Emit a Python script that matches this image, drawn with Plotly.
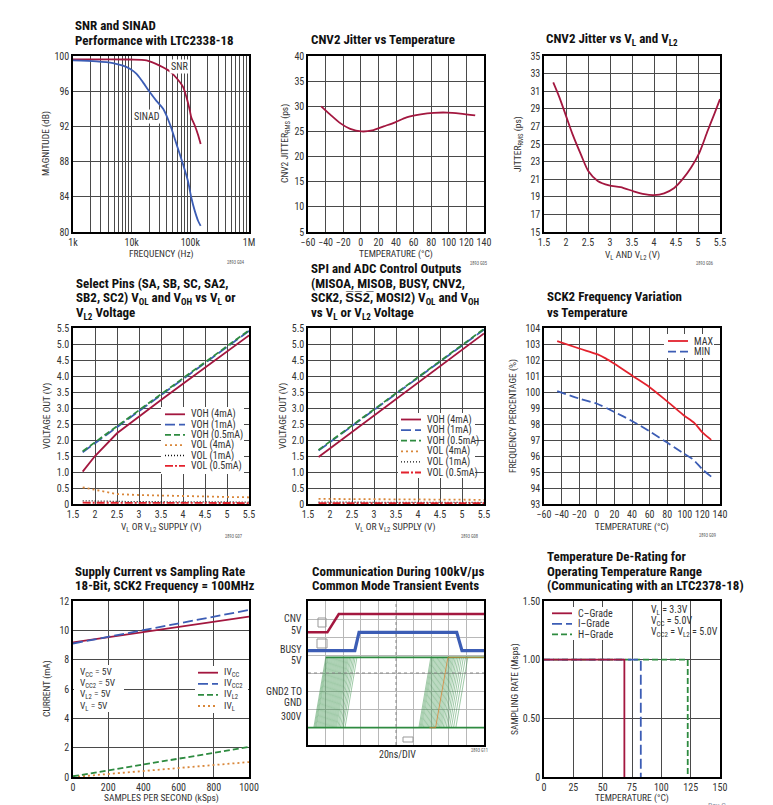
import plotly.graph_objects as go

# page has an 8px body margin: figure is sized so reference pixel (x, y) maps to (x-8, y-8)
OFF = 8
W, H = 773 - OFF, 805 - OFF
def px(x): return (x - OFF) / W
def py(y): return 1 - (y - OFF) / H

# ---------------- data ----------------
# Panel 1: SNR / SINAD vs frequency
snr_freq = [1000, 9300, 17900, 30000, 44600, 58000, 75000, 86000, 98000, 104000, 119000, 136000, 150000]
snr_db = [99.6, 99.6, 99.5, 98.9, 98.25, 97.5, 96.5, 95.3, 93.8, 93.0, 92.1, 91.0, 90.0]
sinad_freq = [1000, 2500, 4800, 7100, 9300, 12000, 15600, 20300, 26400, 34400, 44600, 58000, 75000, 91000, 104000, 119000, 136000, 150000]
sinad_db = [99.5, 99.4, 99.2, 98.9, 98.55, 98.0, 97.0, 95.9, 94.9, 94.0, 92.3, 90.0, 87.7, 85.8, 83.9, 82.4, 81.25, 80.7]
freq_ticks = [1e3, 1e4, 1e5, 1e6]
freq_labels = ["1k", "10k", "100k", "1M"]
freq_minor = [2e3, 3e3, 4e3, 5e3, 6e3, 7e3, 8e3, 9e3, 2e4, 3e4, 4e4, 5e4, 6e4, 7e4, 8e4, 9e4,
              2e5, 3e5, 4e5, 5e5, 6e5, 7e5, 8e5, 9e5]

# Panel 2: CNV2 jitter vs temperature
jit_temp = [-45, -35, -23, -12, 1, 13, 26, 39, 52, 68, 83, 98, 113, 130]
jit_temp_ps = [30.0, 28.4, 26.6, 25.5, 25.0, 25.2, 26.0, 26.8, 27.8, 28.4, 28.7, 28.75, 28.55, 28.2]

# Panel 3: CNV2 jitter vs VL
jit_vl = [1.71, 1.85, 2.0, 2.15, 2.34, 2.51, 2.72, 2.98, 3.24, 3.55, 3.78, 4.0, 4.23, 4.46, 4.65, 4.84, 5.03, 5.22, 5.37, 5.5]
jit_vl_ps = [32.0, 30.3, 28.2, 26.1, 23.8, 21.9, 20.8, 20.3, 20.1, 19.6, 19.3, 19.2, 19.4, 20.0, 21.0, 22.3, 24.0, 26.5, 28.4, 30.1]

# Panel 4: select pins
sel_v = [1.72, 2.0, 2.5, 3.0, 3.5, 4.0, 4.5, 5.0, 5.5]
sel_voh4 = [1.01, 1.5, 2.21, 2.74, 3.25, 3.76, 4.26, 4.77, 5.27]
sel_voh1 = [1.62, 1.9, 2.4, 2.9, 3.4, 3.91, 4.41, 4.91, 5.41]
sel_voh05 = [1.65, 1.93, 2.43, 2.93, 3.43, 3.93, 4.43, 4.93, 5.43]
sel_vol4 = [0.52, 0.45, 0.31, 0.28, 0.26, 0.24, 0.23, 0.22, 0.21]
sel_vol1 = [0.1, 0.09, 0.08, 0.07, 0.07, 0.07, 0.06, 0.06, 0.06]
sel_vol05 = [0.04, 0.04, 0.04, 0.03, 0.03, 0.03, 0.03, 0.03, 0.03]

# Panel 5: SPI outputs
spi_v = [1.74, 2.5, 3.5, 4.5, 5.5]
spi_voh4 = [1.47, 2.25, 3.27, 4.3, 5.33]
spi_voh1 = [1.67, 2.44, 3.45, 4.45, 5.45]
spi_voh05 = [1.69, 2.45, 3.46, 4.46, 5.47]
spi_vol4 = [0.16, 0.15, 0.14, 0.14, 0.13]
spi_vol1 = [0.06, 0.05, 0.05, 0.05, 0.05]
spi_vol05 = [0.03, 0.03, 0.03, 0.03, 0.03]
volt_ticks = [0, 0.5, 1, 1.5, 2, 2.5, 3, 3.5, 4, 4.5, 5, 5.5]
volt_labels = ["0", "0.5", "1.0", "1.5", "2.0", "2.5", "3.0", "3.5", "4.0", "4.5", "5.0", "5.5"]
io_labels = ["VOH (4mA)", "VOH (1mA)", "VOH (0.5mA)", "VOL (4mA)", "VOL (1mA)", "VOL (0.5mA)"]

# Panel 6: SCK2 frequency variation
sck_temp_max = [-45, -20, 1, 10, 20, 41, 60, 79, 98, 111, 120, 130]
sck_max = [103.18, 102.72, 102.35, 102.1, 101.76, 100.99, 100.3, 99.46, 98.58, 98.06, 97.47, 97.01]
sck_temp_min = [-45, -20, 1, 20, 41, 60, 79, 98, 109, 120, 130]
sck_min = [100.05, 99.59, 99.25, 98.75, 98.16, 97.54, 96.87, 96.18, 95.8, 95.17, 94.71]

# Panel 7: supply current vs sampling rate
sps = [0, 1000]
i_vcc = [9.18, 10.93]
i_vcc2 = [9.1, 11.39]
i_vl2 = [0.05, 2.05]
i_vl = [0.0, 1.02]

# Panel 8: scope capture (divisions)
cnv_t = [0.0, 1.1, 1.75, 10.0]
cnv_lvl = [6.26, 6.26, 7.28, 7.28]
busy_t = [0.0, 2.66, 2.9, 8.45, 8.75, 10.0]
busy_lvl = [5.24, 5.24, 6.26, 6.26, 5.24, 5.24]
gnd_low, gnd_high = 0.96, 4.87
gnd_edges1 = [0.33, 0.38, 0.43, 0.48, 0.54, 0.6, 0.66, 0.72, 0.78, 0.84, 0.9, 0.96, 1.02, 1.08, 1.14, 1.2,
              1.26, 1.32, 1.38, 1.44, 1.5, 1.56, 1.62, 1.69, 1.76, 1.84, 1.92, 2.0, 2.1]
gnd_edges2 = [6.3, 6.36, 6.42, 6.48, 6.55, 6.62, 6.69, 6.76, 6.83, 6.9, 6.97, 7.04, 7.11, 7.18, 7.25, 7.32,
              7.39, 7.46, 7.53, 7.6, 7.68, 7.76, 7.85, 7.94, 8.04, 8.15, 8.27, 8.4]
gnd_rise = 0.68

# Panel 9: temperature de-rating
grade_names = ["C–Grade", "I–Grade", "H–Grade"]
grade_tmax = [68.5, 82.5, 122.5]
grade_rate = [1.0, 1.0, 1.0]

# ---------------- styles ----------------
MAROON = "#a3173f"
BLUE = "#3c5db5"
GREEN = "#2e8b40"
ORANGE = "#d9873a"
RED = "#e3222d"
FONT = "Roboto Condensed, Liberation Sans, sans-serif"
TICKF = dict(family=FONT, size=10, color="#333")
AXT = 9.5

fig = go.Figure()

cols = [(73, 249), (308, 484), (544, 720)]
rows = [(56, 232), (328, 504), (601, 777)]

def dom(c, r, bottom=None):
    x0, x1 = cols[c]
    y0, y1 = rows[r]
    if bottom is not None:
        y1 = bottom
    return [px(x0), px(x1)], [py(y1), py(y0)]

def add_axes(i, c, r, xr, yr, xkw=None, ykw=None, bottom=None):
    xd, yd = dom(c, r, bottom)
    base = dict(showline=True, mirror=True, linecolor="black", linewidth=1.5,
                showgrid=True, gridcolor="#4a4a4a", gridwidth=1.1, zeroline=False,
                ticks="", tickfont=TICKF, fixedrange=True, automargin=False, tickangle=0)
    xa = dict(base, domain=xd, range=xr, anchor="y%d" % i)
    ya = dict(base, domain=yd, range=yr, anchor="x%d" % i)
    if xkw: xa.update(xkw)
    if ykw: ya.update(ykw)
    fig.layout["xaxis%d" % i] = xa
    fig.layout["yaxis%d" % i] = ya

def line(i, x, y, color, width=1.8, dash="solid", shape="spline"):
    ln = dict(color=color, width=width, dash=dash, shape=shape)
    if shape == "spline":
        ln["smoothing"] = 0.8
    fig.add_trace(go.Scatter(x=x, y=y, mode="lines", xaxis="x%d" % i, yaxis="y%d" % i,
                             line=ln, showlegend=False, hoverinfo="skip"))

annots = []
shapes = []

def text(x, y, s, size=10, xanchor="center", angle=0, color="#333", bg=None):
    a = dict(x=px(x), y=py(y), xref="paper", yref="paper", text=s,
             showarrow=False, xanchor=xanchor, yanchor="middle", textangle=angle,
             font=dict(family=FONT, size=size, color=color))
    if bg:
        a.update(bgcolor=bg, borderpad=1)
    annots.append(a)

def title(x, ys, lines):
    for y, s in zip(ys, lines):
        annots.append(dict(x=px(x), y=py(y), xref="paper", yref="paper", text="<b>%s</b>" % s,
                           showarrow=False, xanchor="left", yanchor="middle", align="left",
                           font=dict(family=FONT, size=13, color="#111")))

def legend_box(x0, y0, x1, y1):
    shapes.append(dict(type="rect", xref="paper", yref="paper", x0=px(x0), x1=px(x1),
                       y0=py(y1), y1=py(y0), fillcolor="white", line=dict(width=0), layer="above"))

def legend_item(xs, xe, y, color, dash, label, width=1.8, size=10):
    shapes.append(dict(type="line", xref="paper", yref="paper", x0=px(xs), x1=px(xe),
                       y0=py(y), y1=py(y), line=dict(color=color, width=width, dash=dash), layer="above"))
    text(xe + 4, y, label, size=size, xanchor="left")

# ---- Panel 1
add_axes(1, 0, 0, [3, 6], [80, 100],
         xkw=dict(type="log", tickvals=freq_ticks, ticktext=freq_labels,
                  minor=dict(tickvals=freq_minor, showgrid=True, gridcolor="#4a4a4a", gridwidth=1.1, ticks="")),
         ykw=dict(dtick=4, tick0=80))
line(1, snr_freq, snr_db, MAROON)
line(1, sinad_freq, sinad_db, BLUE)
title(73, [25, 40.7], ["SNR and SINAD", "Performance with LTC2338-18"])
text(179, 66, "SNR", size=10, bg="white")
text(147, 117, "SINAD", size=10, bg="white")
text(46, 144, "MAGNITUDE (dB)", size=AXT, angle=-90)
text(161, 254, "FREQUENCY (Hz)", size=AXT)

# ---- Panel 2
add_axes(2, 1, 0, [-60, 140], [5, 40], xkw=dict(dtick=20), ykw=dict(dtick=5))
line(2, jit_temp, jit_temp_ps, MAROON)
title(309, [40], ["CNV2 Jitter vs Temperature"])
text(285, 144, "CNV2 JITTER<sub>RMS</sub> (ps)", size=AXT, angle=-90)
text(396, 254, "TEMPERATURE (°C)", size=AXT)

# ---- Panel 3
add_axes(3, 2, 0, [1.5, 5.5], [15, 35], xkw=dict(dtick=0.5), ykw=dict(dtick=2, tick0=15))
line(3, jit_vl, jit_vl_ps, MAROON)
title(544, [40], ["CNV2 Jitter vs V<sub>L</sub> and V<sub>L2</sub>"])
text(518, 144, "JITTER<sub>RMS</sub> (ps)", size=AXT, angle=-90)
text(632, 255, "V<sub>L</sub> AND V<sub>L2</sub> (V)", size=AXT)

# ---- Panel 4 & 5
for i, c in ((4, 0), (5, 1)):
    add_axes(i, c, 1, [1.5, 5.5], [0, 5.5], xkw=dict(dtick=0.5),
             ykw=dict(tickvals=volt_ticks, ticktext=volt_labels))

io_sty = [(MAROON, "solid", 1.8), (BLUE, "10px,4px", 1.8), (GREEN, "6px,3px", 1.8),
          (ORANGE, "2px,3px", 1.8), ("#111", "1px,2px", 1.3), (RED, "8px,2px,2px,2px", 1.8)]
for ys, st in zip([sel_voh4, sel_voh1, sel_voh05, sel_vol4, sel_vol1, sel_vol05], io_sty):
    line(4, sel_v, ys, st[0], width=st[2], dash=st[1], shape="linear")
for ys, st in zip([spi_voh4, spi_voh1, spi_voh05, spi_vol4, spi_vol1, spi_vol05], io_sty):
    line(5, spi_v, ys, st[0], width=st[2], dash=st[1], shape="linear")

legend_box(161, 407, 244, 474)
for k, (lbl, st) in enumerate(zip(io_labels, io_sty)):
    legend_item(165, 185, 414.3 + k * 10.3, st[0], st[1], lbl, width=st[2])
legend_box(398, 413, 475, 478)
for k, (lbl, st) in enumerate(zip(io_labels, io_sty)):
    legend_item(401, 421, 419.5 + k * 10.6, st[0], st[1], lbl, width=st[2])

title(74, [283.3, 298.3, 313.3], ["Select Pins (SA, SB, SC, SA2,",
                                   "SB2, SC2) V<sub>OL</sub> and V<sub>OH</sub> vs V<sub>L</sub> or",
                                   "V<sub>L2</sub> Voltage"])
text(47, 416, "VOLTAGE OUT (V)", size=AXT, angle=-90)
text(161, 527, "V<sub>L</sub> OR V<sub>L2</sub> SUPPLY (V)", size=AXT)

title(309, [268.3, 283.3, 298.3, 313.3], ["SPI and ADC Control Outputs",
                                           "(MISOA, MISOB, BUSY, CNV2,",
                                           "SCK2, S\u0305S\u03052\u0305, MOSI2) V<sub>OL</sub> and V<sub>OH</sub>",
                                           "vs V<sub>L</sub> or V<sub>L2</sub> Voltage"])
text(283, 416, "VOLTAGE OUT (V)", size=AXT, angle=-90)
text(395, 527, "V<sub>L</sub> OR V<sub>L2</sub> SUPPLY (V)", size=AXT)

# ---- Panel 6
add_axes(6, 2, 1, [-60, 140], [93, 104], xkw=dict(dtick=20), ykw=dict(dtick=1))
line(6, sck_temp_max, sck_max, RED)
line(6, sck_temp_min, sck_min, BLUE, dash="9px,4px")
legend_box(664, 334, 714, 358)
legend_item(668, 688, 341, RED, "solid", "MAX")
legend_item(668, 688, 351.7, BLUE, "8px,4px", "MIN")
title(545, [296.7, 312.7], ["SCK2 Frequency Variation", "vs Temperature"])
text(513, 416, "FREQUENCY PERCENTAGE (%)", size=AXT, angle=-90)
text(632, 527, "TEMPERATURE (°C)", size=AXT)

# ---- Panel 7
add_axes(7, 0, 2, [0, 1000], [0, 12], xkw=dict(dtick=200), ykw=dict(dtick=2))
line(7, sps, i_vl, ORANGE, dash="2px,3px", shape="linear")
line(7, sps, i_vl2, GREEN, dash="6px,3px", shape="linear")
line(7, sps, i_vcc, MAROON, shape="linear")
line(7, sps, i_vcc2, BLUE, dash="10px,4px", shape="linear")
legend_box(74, 665, 124, 712)
for k, s in enumerate(["V<sub>CC</sub> = 5V", "V<sub>CC2</sub> = 5V", "V<sub>L2</sub> = 5V", "V<sub>L</sub> = 5V"]):
    text(78, 672.7 + k * 11.1, s, size=9.5, xanchor="left")
legend_box(195, 666, 248, 713)
for k, (lbl, col, ds) in enumerate([("IV<sub>CC</sub>", MAROON, "solid"), ("IV<sub>CC2</sub>", BLUE, "10px,4px"),
                                    ("IV<sub>L2</sub>", GREEN, "6px,3px"), ("IV<sub>L</sub>", ORANGE, "2px,3px")]):
    legend_item(198, 218, 672.7 + k * 11.1, col, ds, lbl, size=9.5)
title(73, [571, 585], ["Supply Current vs Sampling Rate", "18-Bit, SCK2 Frequency = 100MHz"])
text(47, 689, "CURRENT (mA)", size=AXT, angle=-90)
text(161, 798, "SAMPLES PER SECOND (kSps)", size=AXT)

# ---- Panel 8 (scope)
add_axes(8, 1, 2, [0, 10], [0, 8], bottom=745,
         xkw=dict(dtick=1, showticklabels=False, gridcolor="#b8b8b8", gridwidth=1),
         ykw=dict(dtick=1, showticklabels=False, gridcolor="#b8b8b8", gridwidth=1))
for e in gnd_edges1 + gnd_edges2:
    line(8, [e, e + gnd_rise], [gnd_low, gnd_high], "rgba(46,139,64,0.65)", width=0.7, shape="linear")
line(8, [0.0, 10.0], [gnd_low, gnd_low], GREEN, width=1.8, shape="linear")
line(8, [gnd_edges1[0] + gnd_rise, 10.0], [gnd_high, gnd_high], GREEN, width=1.8, shape="linear")
line(8, [6.9, 7.25, 7.95, 10.0], [gnd_low, gnd_low, gnd_high, gnd_high], ORANGE, width=0.8, shape="linear")
line(8, cnv_t, cnv_lvl, MAROON, width=2.6, shape="linear")
line(8, busy_t, busy_lvl, BLUE, width=3.2, shape="linear")
shapes.append(dict(type="line", xref="x8 domain", yref="y8 domain", x0=0.5, x1=0.5, y0=0, y1=1,
                   line=dict(color="#888", width=1, dash="dot")))
shapes.append(dict(type="line", xref="x8 domain", yref="y8 domain", x0=0, x1=1, y0=0.5, y1=0.5,
                   line=dict(color="#888", width=1, dash="dot")))
for (a, b, c2, d) in [(318, 618, 326, 627), (317, 639, 327, 648), (403, 737, 413, 742)]:
    shapes.append(dict(type="rect", xref="paper", yref="paper", x0=px(a), x1=px(c2), y0=py(d), y1=py(b),
                       line=dict(color="#999", width=1), fillcolor="rgba(0,0,0,0)"))
title(310, [571, 585], ["Communication During 100kV/µs", "Common Mode Transient Events"])
for y, s in [(618, "CNV"), (630, "5V"), (649, "BUSY"), (660, "5V"), (691, "GND2 TO"), (702, "GND"), (716, "300V")]:
    text(304, y, s, size=10, xanchor="right")
text(397, 754, "20ns/DIV", size=10)

# ---- Panel 9
add_axes(9, 2, 2, [0, 150], [0, 1.5], xkw=dict(dtick=25),
         ykw=dict(tickvals=[0, 0.5, 1.0, 1.5], ticktext=["0", "0.50", "1.00", "1.50"]))
styles9 = [(MAROON, "solid"), (BLUE, "10px,4px"), (GREEN, "6px,3px")]
for k in (2, 1, 0):
    col, ds = styles9[k]
    line(9, [0, grade_tmax[k], grade_tmax[k]], [grade_rate[k], grade_rate[k], 0], col, width=1.8, dash=ds, shape="linear")
legend_box(549, 607, 612, 640)
for k in range(3):
    legend_item(552, 572, 613.3 + k * 10.5, styles9[k][0], styles9[k][1], grade_names[k])
for k, s in enumerate(["V<sub>L</sub> = 3.3V", "V<sub>CC</sub> = 5.0V", "V<sub>CC2</sub> = V<sub>L2</sub> = 5.0V"]):
    text(649, 610.5 + k * 11, s, size=10, xanchor="left")
title(545, [556.7, 571, 585], ["Temperature De-Rating for", "Operating Temperature Range",
                                "(Communicating with an LTC2378-18)"])
text(515, 689, "SAMPLING RATE (Msps)", size=AXT, angle=-90)
text(632, 798, "TEMPERATURE (°C)", size=AXT)

# figure codes
for (x, y, s) in [(236, 262, "2893 G04"), (479, 264, "2893 G05"), (704, 264, "2893 G06"),
                  (234, 536, "2893 G07"), (469, 536, "2893 G08"), (707, 535, "2893 G09"),
                  (479, 750, "2893 G11")]:
    text(x, y, s, size=4.5, color="#555")
text(717, 805, "Rev C", size=8, color="#8890a0")

fig.update_layout(template="none", width=W, height=H, margin=dict(l=0, r=0, t=0, b=0),
                  paper_bgcolor="white", plot_bgcolor="white",
                  annotations=annots, shapes=shapes, showlegend=False)
fig.write_html("out.html")
